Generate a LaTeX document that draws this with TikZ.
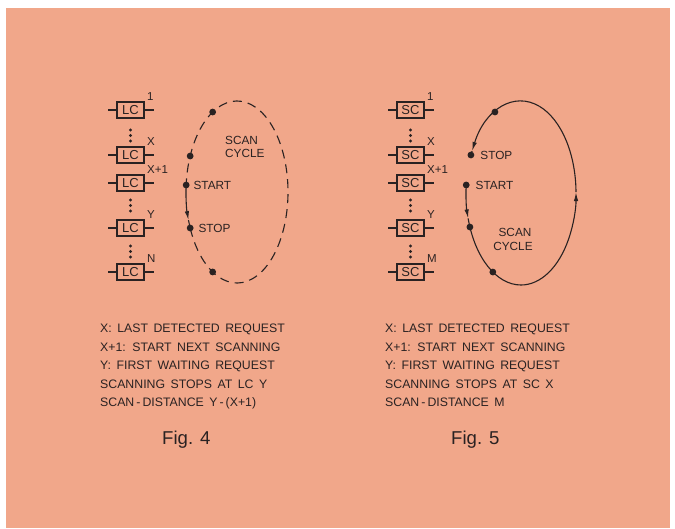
\documentclass[tikz,border=0pt]{standalone}
\usepackage{fontspec}
\setmainfont{Liberation Sans}
\usetikzlibrary{arrows.meta}
\definecolor{paper}{RGB}{241,167,138}
\definecolor{ink}{RGB}{42,34,34}
\begin{document}
\begin{tikzpicture}[x=1pt,y=1pt,
  box/.style={draw=ink, text=ink, line width=1.4pt, minimum width=27pt, minimum height=16pt, inner sep=0pt, font=\fontsize{13}{13}\selectfont},
  lbl/.style={text=ink, anchor=south west, inner sep=0pt, font=\fontsize{11.5}{12}\selectfont},
  dot/.style={circle, fill=ink, inner sep=0pt, minimum size=6.8pt},
  sdot/.style={circle, fill=ink, inner sep=0pt, minimum size=3.3pt},
  clbl/.style={text=ink, anchor=base west, inner sep=0pt, font=\fontsize{11.8}{12}\selectfont},
  txt/.style={text=ink, anchor=base west, inner sep=0pt, font={\fontsize{12.3}{13}\selectfont\spaceskip=5.5pt plus 1pt\relax}},
  figlbl/.style={text=ink, anchor=base west, inner sep=0pt, font=\fontsize{18.6}{20}\selectfont},
  lead/.style={draw=ink, line width=1.2pt},
  cyc/.style={draw=ink, line width=1.1pt},
  tip/.style={-{Latex[length=9pt,width=4.4pt]}}
]
\useasboundingbox (0,0) rectangle (675,-528);
\fill[white] (0,0) rectangle (675,-528);
\fill[paper] (6,-8) rectangle (670,-528);

% ---------- Fig. 4 : boxes ----------
\foreach \n/\y/\t in {a1/110/1, a2/155/X, a3/183/X+1, a4/228/Y, a5/272/N}{
  \node[box] (\n) at (130.5,-\y) {LC};
  \draw[lead] (\n.west) -- ++(-8,0);
  \draw[lead] (\n.east) -- ++(9,0);
  \node[lbl] (\n l) at (147,{-\y+9}) {\t};
}
\foreach \n/\y in {e1/130,e2/135.5,e3/141,e4/200,e5/205.5,e6/211,e7/246,e8/251.5,e9/257}{
  \node[sdot] (\n) at (130.5,-\y) {};
}

% ---------- Fig. 4 : scan cycle ----------
\coordinate (c4) at (237,-192);
\draw[cyc, dash pattern=on 9pt off 6pt] (c4) ++(203.3:51 and 91)
  arc[start angle=203.3, end angle=535.6, x radius=51, y radius=91];
\draw[cyc, tip] (c4) ++(175.6:51 and 91)
  arc[start angle=175.6, end angle=198, x radius=51, y radius=91];
\draw[cyc] (c4) ++(198:51 and 91)
  arc[start angle=198, end angle=203.3, x radius=51, y radius=91];
\path (c4) ++(118.5:51 and 91) node[dot] (p1) {};
\path (c4) ++(156.7:51 and 91) node[dot] (p2) {};
\path (c4) ++(175.6:51 and 91) node[dot] (p3) {};
\path (c4) ++(203.3:51 and 91) node[dot] (p4) {};
\path (c4) ++(241.5:51 and 91) node[dot] (p5) {};
\node[clbl] (sc4a) at (225,-144) {SCAN};
\node[clbl] (sc4b) at (225,-157) {CYCLE};
\node[clbl, anchor=west] (st4) at ([xshift=3.6pt]p3.east) {START};
\node[clbl, anchor=west] (sp4) at ([xshift=4.6pt]p4.east) {STOP};

% ---------- Fig. 4 : text ----------
\node[txt] (t41) at (100,-332.5) {X: LAST DETECTED REQUEST};
\node[txt] (t42) at (100,-351) {X+1: START NEXT SCANNING};
\node[txt] (t43) at (100,-369.5) {Y: FIRST WAITING REQUEST};
\node[txt] (t44) at (100,-388) {SCANNING STOPS AT LC Y};
\node[txt] (t45) at (100,-406.5) {SCAN\,-\,DISTANCE Y\,-\,(X+1)};
\node[figlbl] (f4) at (162,-444.7) {Fig. 4};

% ---------- Fig. 5 : boxes ----------
\foreach \n/\y/\t in {b1/110/1, b2/155/X, b3/183/X+1, b4/228/Y, b5/272/M}{
  \node[box] (\n) at (410.5,-\y) {SC};
  \draw[lead] (\n.west) -- ++(-8,0);
  \draw[lead] (\n.east) -- ++(9,0);
  \node[lbl] (\n l) at (427,{-\y+9}) {\t};
}
\foreach \n/\y in {g1/130,g2/135.5,g3/141,g4/200,g5/205.5,g6/211,g7/246,g8/251.5,g9/257}{
  \node[sdot] (\n) at (410.5,-\y) {};
}

% ---------- Fig. 5 : scan cycle ----------
\coordinate (c5) at (521,-193);
\draw[cyc, tip] (c5) ++(175:55 and 92)
  arc[start angle=175, end angle=196, x radius=55, y radius=92];
\draw[cyc] (c5) ++(196:55 and 92)
  arc[start angle=196, end angle=270, x radius=55, y radius=92];
\draw[cyc, tip] (c5) ++(270:55 and 92)
  arc[start angle=270, end angle=360.6, x radius=55, y radius=92];
\draw[cyc] (c5) ++(360.6:55 and 92)
  arc[start angle=360.6, end angle=430, x radius=55, y radius=92];
\draw[cyc, tip] (c5) ++(430:55 and 92)
  arc[start angle=430, end angle=512.8, x radius=55, y radius=92];
\draw[cyc] (c5) ++(512.8:55 and 92)
  arc[start angle=512.8, end angle=515.6, x radius=55, y radius=92];
\path (c5) ++(118.3:55 and 92) node[dot] (q1) {};
\path (c5) ++(155.6:55 and 92) node[dot] (q2) {};
\path (c5) ++(175:55 and 92) node[dot] (q3) {};
\path (c5) ++(201.7:55 and 92) node[dot] (q4) {};
\path (c5) ++(239.2:55 and 92) node[dot] (q5) {};
\node[clbl, anchor=base] (sc5a) at (515,-236) {SCAN};
\node[clbl, anchor=base] (sc5b) at (513,-250) {CYCLE};
\node[clbl, anchor=west] (sp5) at ([xshift=5.7pt]q2.east) {STOP};
\node[clbl, anchor=west] (st5) at ([xshift=5.7pt]q3.east) {START};

% ---------- Fig. 5 : text ----------
\node[txt] (t51) at (385,-332.5) {X: LAST DETECTED REQUEST};
\node[txt] (t52) at (385,-351) {X+1: START NEXT SCANNING};
\node[txt] (t53) at (385,-369.5) {Y: FIRST WAITING REQUEST};
\node[txt] (t54) at (385,-388) {SCANNING STOPS AT SC X};
\node[txt] (t55) at (385,-406.5) {SCAN\,-\,DISTANCE M};
\node[figlbl] (f5) at (451,-444.7) {Fig. 5};
\end{tikzpicture}
\end{document}
